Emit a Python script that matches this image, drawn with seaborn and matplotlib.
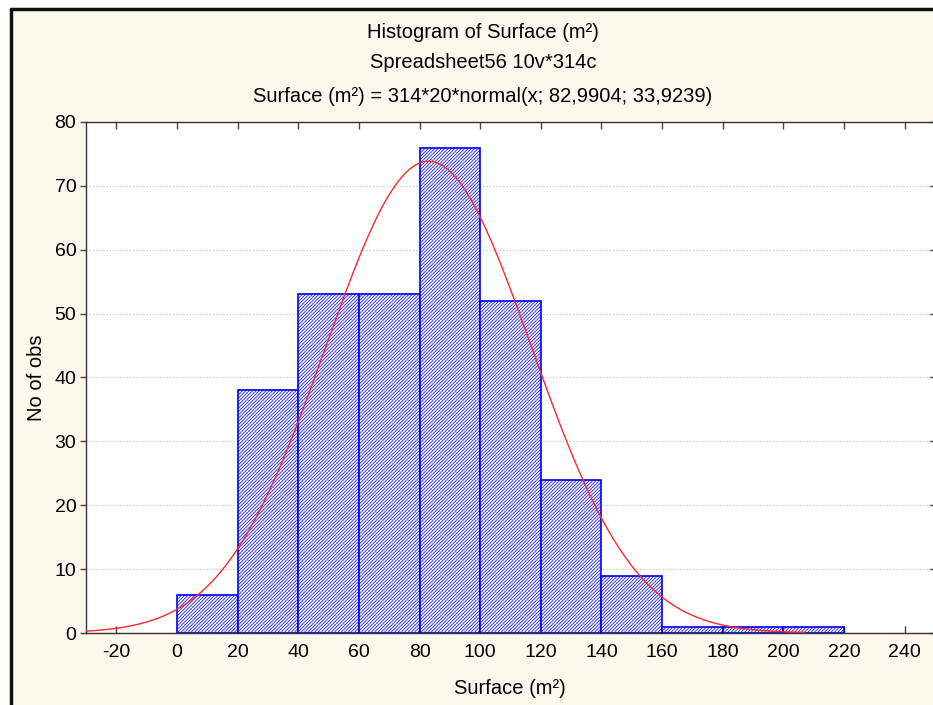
import numpy as np
import pandas as pd
import matplotlib
matplotlib.use("Agg")
import matplotlib.pyplot as plt
import seaborn as sns
from matplotlib.patches import Rectangle
from matplotlib.lines import Line2D

# ---- data ----
bin_edges = [0, 20, 40, 60, 80, 100, 120, 140, 160, 180, 200, 220]
counts = [6, 38, 53, 53, 76, 52, 24, 9, 1, 1, 1]
n_obs = 314
bin_width = 20
fit_mean = 82.9904
fit_sd = 33.9239
x_ticks = [-20, 0, 20, 40, 60, 80, 100, 120, 140, 160, 180, 200, 220, 240]
y_ticks = [0, 10, 20, 30, 40, 50, 60, 70, 80]
curve_range = (-30, 207)

title_lines = ["Histogram of Surface (m²)",
               "Spreadsheet56 10v*314c",
               "Surface (m²) = 314*20*normal(x; 82,9904; 33,9239)"]

sns.set_theme(style="white")
plt.rcParams['font.family'] = ['Liberation Sans', 'DejaVu Sans']
plt.rcParams['hatch.color'] = '#6A6AFF'
plt.rcParams['hatch.linewidth'] = 0.5

W, H = 933, 705
fig = plt.figure(figsize=(W / 100, H / 100), dpi=100)
fig.patch.set_facecolor("white")

# cream panel with dark top/left border
fig.patches.append(Rectangle((11 / W, 0), 1, 1 - 9 / H, transform=fig.transFigure,
                             facecolor="#FDF8EC", edgecolor="none", zorder=-10))
fig.lines.append(Line2D([11 / W, 11 / W], [0, 1 - 9 / H], transform=fig.transFigure,
                        color="#111111", lw=2.5, zorder=-9))
fig.lines.append(Line2D([11 / W, 1], [1 - 9 / H, 1 - 9 / H], transform=fig.transFigure,
                        color="#111111", lw=2.5, zorder=-9))

ax_left, ax_right, ax_top, ax_bot = 86, 935, 122, 633
ax = fig.add_axes([ax_left / W, 1 - ax_bot / H, (ax_right - ax_left) / W, (ax_bot - ax_top) / H])
ax.set_facecolor("white")

centers = [(bin_edges[i] + bin_edges[i + 1]) / 2 for i in range(len(counts))]
df = pd.DataFrame({"x": centers, "w": counts})
sns.histplot(data=df, x="x", weights="w", bins=bin_edges, ax=ax,
             stat="count", element="bars", fill=True,
             facecolor="#F6F6FF", edgecolor="#0000FF", linewidth=1.2, alpha=1.0)
for p in ax.patches:
    p.set_hatch("//////////")
    p.set_edgecolor("#0000FF")
    p.set_zorder(2)

xs = np.linspace(curve_range[0], curve_range[1], 400)
ys = n_obs * bin_width * np.exp(-0.5 * ((xs - fit_mean) / fit_sd) ** 2) / (fit_sd * np.sqrt(2 * np.pi))
sns.lineplot(x=xs, y=ys, ax=ax, color="#FF2828", lw=1.0, zorder=3)

ax.set_xlim(-30, 250)
ax.set_ylim(0, 80)
ax.set_xticks(x_ticks)
ax.set_yticks(y_ticks)
ax.set_xticklabels([str(t) for t in x_ticks], fontsize=14)
ax.set_yticklabels([str(t) for t in y_ticks], fontsize=14)
ax.tick_params(axis="x", direction="in", top=True, bottom=True, length=5, width=1,
               color="#444444", pad=8, labelcolor="black")
ax.tick_params(axis="y", which="both", left=True, right=False, direction="out", length=4,
               width=1, color="#444444", pad=3, labelcolor="black")
ax2 = ax.secondary_yaxis("right")
ax2.set_yticks(y_ticks)
ax2.tick_params(direction="in", length=4, width=1, color="#444444", labelright=False)
ax2.spines["right"].set_visible(False)

for s in ax.spines.values():
    s.set_color("#333333")
    s.set_linewidth(1.0)
    s.set_visible(True)

ax.yaxis.grid(True, linestyle=(0, (1, 2)), color="#BBBBBB", lw=0.8)
ax.xaxis.grid(False)
ax.set_axisbelow(True)

ax.set_xlabel("Surface (m²)", fontsize=14.5, color="black")
ax.set_ylabel("No of obs", fontsize=14.5, color="black")
ax.xaxis.set_label_coords((510 - ax_left) / (ax_right - ax_left), -(689 - ax_bot) / (ax_bot - ax_top))
ax.xaxis.label.set_va("center")
ax.yaxis.set_label_coords(-(86 - 37) / (ax_right - ax_left), 0.5)
ax.yaxis.label.set_va("center")

for txt, yy in zip(title_lines, [33, 62, 96]):
    fig.text(483 / W, 1 - yy / H, txt, ha="center", va="center", fontsize=14.5, color="black")

fig.savefig("out.png", dpi=100)
